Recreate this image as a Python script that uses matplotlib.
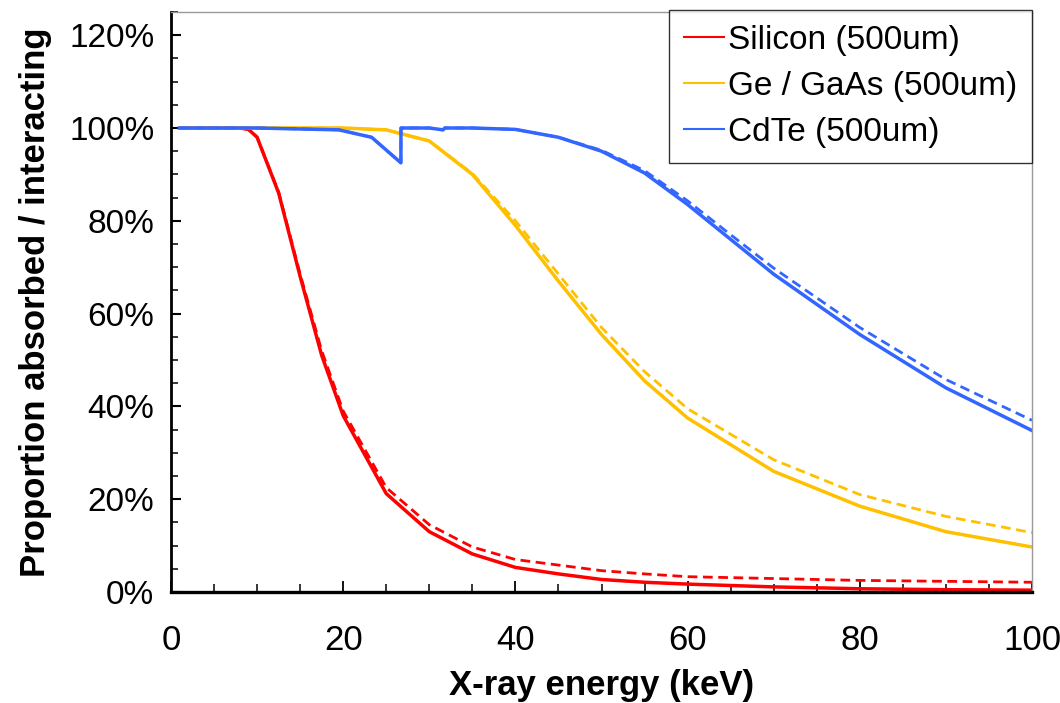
import matplotlib.pyplot as plt
from matplotlib.ticker import MultipleLocator, PercentFormatter

plt.rcParams['font.family'] = ['Liberation Sans', 'DejaVu Sans']

# energies (keV) and fractions
si_energy = [1, 5, 8, 9, 10, 12.5, 15, 17.5, 20, 25, 30, 35, 40, 45, 50, 55, 60, 70, 80, 90, 100]
si_absorbed = [1.0, 1.0, 1.0, 0.997, 0.98, 0.86, 0.68, 0.51, 0.38, 0.212, 0.13, 0.082, 0.053, 0.039, 0.027, 0.021, 0.017, 0.011, 0.007, 0.005, 0.004]
si_interact = [1.0, 1.0, 1.0, 0.997, 0.98, 0.862, 0.685, 0.52, 0.39, 0.225, 0.145, 0.097, 0.07, 0.058, 0.046, 0.039, 0.033, 0.029, 0.025, 0.023, 0.021]

ge_energy = [1, 10, 20, 25, 30, 35, 40, 45, 50, 55, 60, 70, 80, 90, 100]
ge_absorbed = [1.0, 1.0, 1.0, 0.996, 0.972, 0.9, 0.79, 0.67, 0.555, 0.455, 0.375, 0.26, 0.185, 0.13, 0.097]
ge_interact = [1.0, 1.0, 1.0, 0.996, 0.972, 0.902, 0.80, 0.685, 0.57, 0.475, 0.395, 0.285, 0.21, 0.163, 0.128]

cd_energy = [1, 10, 19.5, 23.3, 26.7, 26.71, 30, 31.6, 31.8, 35, 40, 45, 50, 55, 60, 65, 70, 80, 90, 100]
cd_absorbed = [1.0, 1.0, 0.996, 0.98, 0.925, 1.0, 1.0, 0.996, 1.0, 1.0, 0.997, 0.98, 0.95, 0.903, 0.835, 0.76, 0.685, 0.555, 0.44, 0.348]
cd_interact = [1.0, 1.0, 0.996, 0.98, 0.925, 1.0, 1.0, 0.996, 1.0, 1.0, 0.997, 0.98, 0.952, 0.908, 0.843, 0.77, 0.698, 0.57, 0.458, 0.37]

labels = ['Silicon (500um)', 'Ge / GaAs (500um)', 'CdTe (500um)']
colors = ['#FF0000', '#FFC000', '#3366FF']

fig = plt.figure(figsize=(10.6, 7.03), dpi=100)
ax = fig.add_axes([171 / 1060, 111 / 703, 861 / 1060, 580 / 703])

series = [(si_energy, si_absorbed, si_interact),
          (ge_energy, ge_absorbed, ge_interact),
          (cd_energy, cd_absorbed, cd_interact)]

for (e, a, i), c in zip(series, colors):
    ax.plot(e, i, color=c, lw=2.0, ls=(0, (3.5, 2)))
    ax.plot(e, a, color=c, lw=2.5)

ax.set_xlim(0, 100)
ax.set_ylim(0, 1.25)
ax.xaxis.set_major_locator(MultipleLocator(20))
ax.xaxis.set_minor_locator(MultipleLocator(5))
ax.yaxis.set_major_locator(MultipleLocator(0.2))
ax.yaxis.set_minor_locator(MultipleLocator(0.05))
ax.yaxis.set_major_formatter(PercentFormatter(1.0, decimals=0))

ax.tick_params(axis='x', which='major', direction='in', length=8, width=1.3,
               labelsize=25, pad=23)
ax.tick_params(axis='x', which='minor', direction='in', length=6, width=1.1)
ax.tick_params(axis='y', which='major', direction='in', length=7, width=1.5,
               labelsize=24, pad=12)
ax.tick_params(axis='y', which='minor', direction='in', length=5, width=1.1)

ax.spines['top'].set_color('#999999')
ax.spines['top'].set_linewidth(1)
ax.spines['right'].set_color('#999999')
ax.spines['right'].set_linewidth(1)
ax.spines['left'].set_linewidth(2)
ax.spines['bottom'].set_linewidth(2.4)

ax.set_xlabel('X-ray energy (keV)', fontsize=25, fontweight='bold', labelpad=9)
ax.set_ylabel('Proportion absorbed / interacting', fontsize=25, fontweight='bold', labelpad=12)

leg_handles = [plt.Line2D([], [], color=c, lw=1.5) for c in colors]
leg = ax.legend(leg_handles, labels, loc='upper right', bbox_to_anchor=(1.0, 1.004),
                fontsize=24, frameon=True, fancybox=False, edgecolor='black',
                handlelength=1.2, handletextpad=0.1, borderpad=0.45, labelspacing=0.45,
                borderaxespad=0)
leg.get_frame().set_linewidth(1.0)

fig.savefig('out.png', dpi=100)
